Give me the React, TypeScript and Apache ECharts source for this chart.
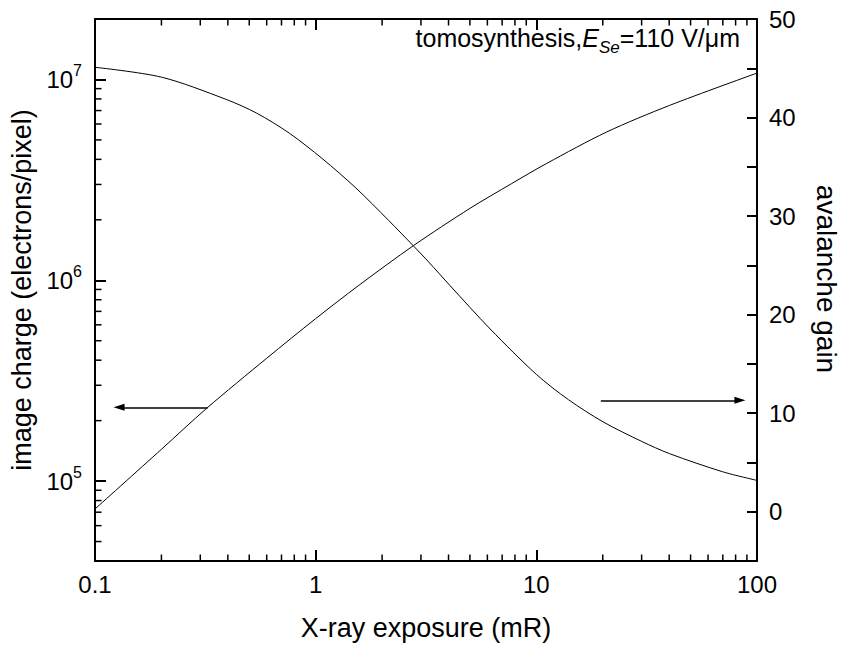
import React, { useEffect, useRef } from 'react';
import * as echarts from 'echarts';

const chargeExposure = [0.1, 0.2, 0.32, 0.6, 1, 1.57, 2.78, 5, 7.73, 11.1, 20.8, 40.2, 100];
const imageCharge = [7.26e4, 1.44e5, 2.3e5, 4.09e5, 6.44e5, 9.44e5, 1.49e6, 2.28e6, 3.03e6, 3.81e6, 5.47e6, 7.43e6, 1.076e7];
const gainExposure = [0.1, 0.2, 0.39, 0.54, 0.76, 1.07, 1.52, 2.14, 2.78, 3.25, 4.07, 6.18, 10, 14, 20.1, 30, 40.2, 70, 100];
const avalancheGain = [45.1, 44.1, 41.87, 40.45, 38.41, 35.84, 32.86, 29.57, 26.95, 25.35, 22.93, 18.54, 13.94, 11.36, 9.11, 7.14, 5.89, 4.05, 3.18];

const leftArrow = { from: [0.324, 2.33e5], to: [0.1285, 2.33e5] };
const rightArrow = { from: [19.6, 11.3], to: [83.7, 11.3] };

const xMinorTicks = [0.2, 0.3, 0.4, 0.5, 0.6, 0.7, 0.8, 0.9, 2, 3, 4, 5, 6, 7, 8, 9, 20, 30, 40, 50, 60, 70, 80, 90];
const yMinorTicks = [5e4, 6e4, 7e4, 8e4, 9e4, 2e5, 3e5, 4e5, 5e5, 6e5, 7e5, 8e5, 9e5, 2e6, 3e6, 4e6, 5e6, 6e6, 7e6, 8e6, 9e6];

const FONT = 'Liberation Sans, Arial, Helvetica, sans-serif';

export default function App() {
  const ref = useRef<HTMLDivElement>(null);
  useEffect(() => {
    if (!ref.current) return;
    const chart = echarts.init(ref.current, null, { renderer: 'svg' });
    const axisLine = { show: true, onZero: false, lineStyle: { color: '#000', width: 2 } };
    const tick = { show: true, inside: true, length: 11, lineStyle: { color: '#000', width: 2 } };
    const option: any = {
      animation: false,
      backgroundColor: '#fff',
      grid: { left: 95, right: 89, top: 19, bottom: 91, containLabel: false },
      xAxis: [
        {
          type: 'log', logBase: 10, min: 0.1, max: 100, position: 'bottom',
          name: 'X-ray exposure (mR)', nameLocation: 'middle', nameGap: 53,
          nameTextStyle: { fontSize: 27, fontFamily: FONT, color: '#000' },
          axisLine, axisTick: tick, splitLine: { show: false },
          axisLabel: {
            margin: 11, fontSize: 24, fontFamily: FONT, color: '#000',
            formatter: (v: number) => String(+v.toPrecision(3)),
          },
        },
        {
          type: 'log', logBase: 10, min: 0.1, max: 100, position: 'top',
          axisLine, axisTick: tick, splitLine: { show: false }, axisLabel: { show: false },
        },
      ],
      yAxis: [
        {
          type: 'log', logBase: 10, min: 4e4, max: 2e7, position: 'left',
          name: 'image charge (electrons/pixel)', nameLocation: 'middle', nameGap: 58,
          nameTextStyle: { fontSize: 27, fontFamily: FONT, color: '#000' },
          axisLine, axisTick: tick, splitLine: { show: false },
          axisLabel: {
            margin: 13,
            formatter: (v: number) => {
              const e = Math.round(Math.log10(v));
              return Math.abs(v / Math.pow(10, e) - 1) < 1e-6 ? `{b|10}{s|${e}}` : '';
            },
            rich: {
              b: { fontSize: 24, fontFamily: FONT, color: '#000' },
              s: { fontSize: 16, fontFamily: FONT, color: '#000', padding: [0, 0, 18, 0] },
            },
          },
        },
        {
          type: 'value', min: -5, max: 50, interval: 5, position: 'right',
          name: 'avalanche gain', nameLocation: 'middle', nameGap: 55, nameRotate: -90,
          nameTextStyle: { fontSize: 28, fontFamily: FONT, color: '#000', padding: [0, 22, 0, 0] },
          axisLine, axisTick: { ...tick, length: 10 }, splitLine: { show: false },
          axisLabel: {
            margin: 12, fontSize: 24, fontFamily: FONT, color: '#000',
            formatter: (v: number) => (v % 10 === 0 ? String(v) : ''),
          },
        },
      ],
      series: [
        {
          name: 'image charge', type: 'line', xAxisIndex: 0, yAxisIndex: 0,
          data: chargeExposure.map((x, i) => [x, imageCharge[i]]),
          showSymbol: false, smooth: 0.3, silent: true,
          lineStyle: { color: '#000', width: 1 },
          markLine: {
            silent: true, symbol: ['none', 'triangle'], symbolSize: [7, 11],
            label: { show: false },
            lineStyle: { color: '#000', width: 1.5, type: 'solid' },
            data: [[{ coord: leftArrow.from }, { coord: leftArrow.to }]],
          },
        },
        {
          name: 'avalanche gain', type: 'line', xAxisIndex: 0, yAxisIndex: 1,
          data: gainExposure.map((x, i) => [x, avalancheGain[i]]),
          showSymbol: false, smooth: 0.3, silent: true,
          lineStyle: { color: '#000', width: 1 },
          markLine: {
            silent: true, symbol: ['none', 'triangle'], symbolSize: [7, 11],
            label: { show: false },
            lineStyle: { color: '#000', width: 1.5, type: 'solid' },
            data: [[{ coord: rightArrow.from }, { coord: rightArrow.to }]],
          },
        },
      ],
    };
    chart.setOption(option);

    const px = (v: number) => chart.convertToPixel({ xAxisIndex: 0 }, v) as number;
    const py = (v: number) => chart.convertToPixel({ yAxisIndex: 0 }, v) as number;
    const top = py(2e7);
    const bottom = py(4e4);
    const left = px(0.1);
    const minorLen = 6.5;
    const els: any[] = [];
    const st = { stroke: '#000', lineWidth: 1.5 };
    xMinorTicks.forEach((v) => {
      const x = px(v);
      els.push({ type: 'line', silent: true, shape: { x1: x, y1: bottom, x2: x, y2: bottom - minorLen }, style: st });
      els.push({ type: 'line', silent: true, shape: { x1: x, y1: top, x2: x, y2: top + minorLen }, style: st });
    });
    yMinorTicks.forEach((v) => {
      const y = py(v);
      els.push({ type: 'line', silent: true, shape: { x1: left, y1: y, x2: left + minorLen, y2: y }, style: st });
    });
    els.push({
      type: 'text', silent: true, x: 740, y: 38,
      style: {
        text: '{n|tomosynthesis,}{i|E}{sub|Se}{n|=110 V/μm}',
        align: 'right', verticalAlign: 'middle',
        rich: {
          n: { fontSize: 25, fontFamily: FONT, fill: '#000' },
          i: { fontSize: 25, fontFamily: FONT, fontStyle: 'italic', fill: '#000' },
          sub: { fontSize: 17, fontFamily: FONT, fontStyle: 'italic', fill: '#000', padding: [18, 0, 0, 0] },
        },
      },
    });
    chart.setOption({ graphic: { elements: els } });
    return () => chart.dispose();
  }, []);
  return <div ref={ref} style={{ position: 'fixed', left: 0, top: 0, width: 848, height: 652, background: '#fff' }} />;
}
